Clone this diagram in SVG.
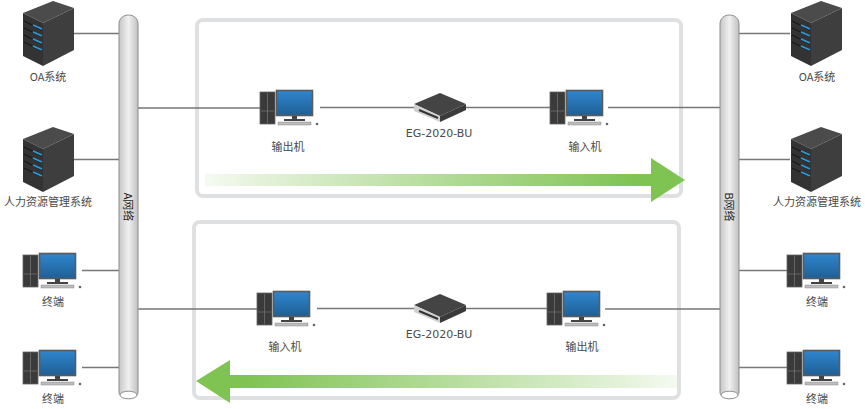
<svg xmlns="http://www.w3.org/2000/svg" width="865" height="409" viewBox="0 0 865 409">
<style>
text{font-family:"Noto Sans CJK SC","Noto Sans",sans-serif;font-size:11px;fill:#4a4a4a;text-anchor:middle}
.vl{fill:#222;font-size:11px}
.dev{font-size:12px;font-family:"DejaVu Sans","Noto Sans",sans-serif;font-size:11px}
.ln{stroke:#777;stroke-width:1.300;fill:none}
.frame{fill:#fff;stroke:#dfe0e2;stroke-width:4}
.pipe{fill:url(#pipeG);stroke:#8c8c8c;stroke-width:1}
</style>
<defs>
<linearGradient id="pipeG" x1="0" y1="0" x2="1" y2="0"><stop offset="0" stop-color="#c6c6c6"/><stop offset=".5" stop-color="#f0f0f0"/><stop offset="1" stop-color="#c0c0c0"/></linearGradient>
<linearGradient id="arrR" x1="205" y1="0" x2="685" y2="0" gradientUnits="userSpaceOnUse"><stop offset="0" stop-color="#7fc352" stop-opacity=".08"/><stop offset=".1" stop-color="#7fc352" stop-opacity=".2"/><stop offset=".9" stop-color="#7fc352"/><stop offset="1" stop-color="#7fc352"/></linearGradient>
<linearGradient id="arrL" x1="677" y1="0" x2="196" y2="0" gradientUnits="userSpaceOnUse"><stop offset="0" stop-color="#7fc352" stop-opacity=".08"/><stop offset=".1" stop-color="#7fc352" stop-opacity=".2"/><stop offset=".9" stop-color="#7fc352"/><stop offset="1" stop-color="#7fc352"/></linearGradient>
<linearGradient id="scr" x1="0" y1="0" x2="0" y2="1"><stop offset="0" stop-color="#2f86cf"/><stop offset="1" stop-color="#1f5f94"/></linearGradient>
<g id="server">
<polygon points="0,12 30,0 51,7 20,22" fill="#4b4b4b"/>
<polygon points="0,12 20,22 20,65 0,55" fill="#333"/>
<polygon points="20,22 51,7 51,49 20,65" fill="#3e3e3e"/>
<path d="M1,20 L19,29 M1,27 L19,36 M1,34 L19,43 M1,41 L19,50" stroke="#1b1b1b" stroke-width="1.200"/>
<path d="M10,24 L19,28 M10,31 L19,35 M10,38 L19,42 M10,45 L19,49" stroke="#2a9ae0" stroke-width="1.800"/>
</g>
<g id="pc">
<rect x="0" y="2" width="15" height="32" fill="#3a3a3a" stroke="#666" stroke-width=".8"/>
<path d="M7.500,3 V33 M1,21 H14" stroke="#777" stroke-width=".7"/>
<rect x="16.500" y=".5" width="36" height="25" fill="url(#scr)" stroke="#5b5b5b" stroke-width="1.600"/>
<rect x="32" y="26" width="5" height="3" fill="#444"/>
<rect x="24" y="29" width="21" height="2" fill="#444"/>
<rect x="18" y="32" width="33" height="3" fill="#bdbdbd" stroke="#777" stroke-width=".4"/>
<circle cx="57" cy="34" r="1.300" fill="#666"/>
</g>
<g id="box">
<polygon points="0,11 26,0 52,11 26,23" fill="#444"/>
<polygon points="0,11 26,23 26,29 0,18" fill="#d0d0d0"/>
<polygon points="26,23 52,11 52,17 26,29" fill="#3a3a3a"/>
<path d="M5,17 L24,25" stroke="#333" stroke-width="2"/>
</g>
</defs>
<rect width="865" height="409" fill="#fff"/>
<g id="frames">
<rect id="frame-top" class="frame" x="197" y="20" width="484" height="176" rx="6"/>
<rect id="frame-bottom" class="frame" x="194" y="222" width="485" height="176" rx="6"/>
</g>
<g id="connectors">
<path class="ln" d="M74,33.500H119M74,159.500H119M82,270.500H119M82,367.500H119M138,108H260M138,309H257M320,107.500H414M466,107.500H550M608,107.500H720M317,308.500H414M466,308.500H547M605,309H720M739,33.500H790M739,159.500H790M739,270.500H787M739,367.500H787"/>
</g>
<polygon id="arrow-right" points="205,174 651,174 651,158 685,180 651,202 651,186 205,186" fill="url(#arrR)"/>
<polygon id="arrow-left" points="677,375 230,375 230,360 196,381 230,403 230,388 677,388" fill="url(#arrL)"/>
<g id="net-a">
<path class="pipe" d="M119,24 C119,12 138,12 138,24 V392 C138,400 119,400 119,392 Z"/>
<ellipse cx="128.500" cy="395" rx="8.500" ry="3.800" fill="#fff" stroke="#8c8c8c"/>
<text class="vl" transform="translate(128,207) rotate(90)" dy="4">A网络</text>
</g>
<g id="net-b">
<path class="pipe" d="M720,24 C720,12 739,12 739,24 V392 C739,400 720,400 720,392 Z"/>
<ellipse cx="729.500" cy="395" rx="8.500" ry="3.800" fill="#fff" stroke="#8c8c8c"/>
<text class="vl" transform="translate(729,207) rotate(90)" dy="4">B网络</text>
</g>
<g id="oa-a"><use href="#server" x="23" y="1"/><text x="48" y="81">OA系统</text></g>
<g id="hr-a"><use href="#server" x="23" y="127"/><text x="48" y="206">人力资源管理系统</text></g>
<g id="term-a1"><use href="#pc" x="23" y="253"/><text x="53" y="306">终端</text></g>
<g id="term-a2"><use href="#pc" x="23" y="350"/><text x="53" y="403">终端</text></g>
<g id="oa-b"><use href="#server" x="791" y="1"/><text x="817" y="81">OA系统</text></g>
<g id="hr-b"><use href="#server" x="791" y="127"/><text x="817" y="206">人力资源管理系统</text></g>
<g id="term-b1"><use href="#pc" x="787" y="253"/><text x="817" y="306">终端</text></g>
<g id="term-b2"><use href="#pc" x="787" y="350"/><text x="817" y="403">终端</text></g>
<g id="out-top"><use href="#pc" x="260" y="90"/><text x="288" y="151">输出机</text></g>
<g id="dev-top"><use href="#box" x="414" y="93"/><text class="dev" x="439" y="137">EG-2020-BU</text></g>
<g id="in-top"><use href="#pc" x="550" y="90"/><text x="585" y="151">输入机</text></g>
<g id="in-bottom"><use href="#pc" x="257" y="291"/><text x="285" y="351">输入机</text></g>
<g id="dev-bottom"><use href="#box" x="414" y="294"/><text class="dev" x="439" y="338">EG-2020-BU</text></g>
<g id="out-bottom"><use href="#pc" x="547" y="291"/><text x="582" y="351">输出机</text></g>
</svg>
